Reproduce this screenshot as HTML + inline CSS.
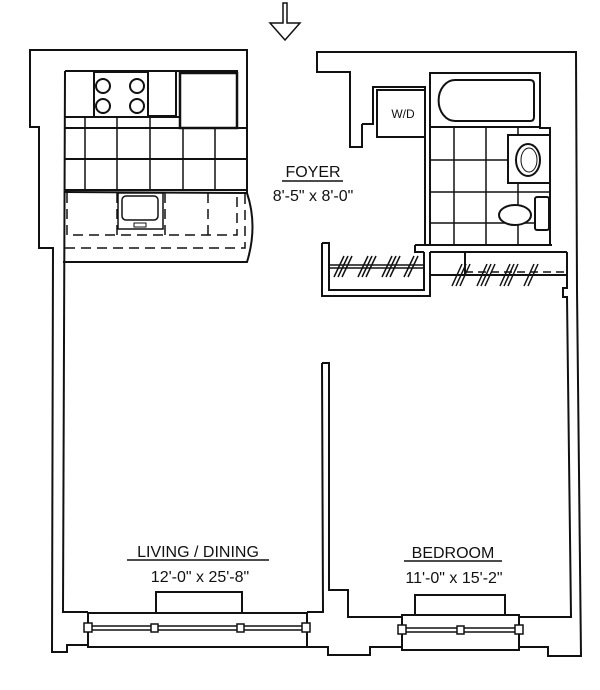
<!DOCTYPE html>
<html><head><meta charset="utf-8"><style>
html,body{margin:0;padding:0;background:#fff;}
svg{display:block;}
text{font-family:"Liberation Sans",sans-serif;fill:#111;}
</style></head><body>
<svg width="600" height="690" viewBox="0 0 600 690" xmlns="http://www.w3.org/2000/svg">
<g fill="none" stroke="#111" stroke-width="2" stroke-linejoin="miter">
<!-- arrow -->
<path d="M283,3 L287,3 L287,23 L300,23 L285,40 L270,23 L283,23 Z" stroke-width="1.5"/>

<!-- left outer wall -->
<path d="M247,128 L247,50 L30,50 L30,127 L39,127 L39,248 L53,248 L52,652 L67,652 L67,645 L88,645"/>
<!-- left inner -->
<path d="M65,71 L237,71 L237,128"/>
<path d="M65,71 L63,612 L88,612"/>
<!-- kitchen -->
<rect x="94" y="72" width="54" height="45"/>
<circle cx="103" cy="86" r="7"/><circle cx="137" cy="86" r="7"/>
<circle cx="103" cy="106" r="7"/><circle cx="137" cy="106" r="7"/>
<path d="M148,72 L148,116 L176,116 L176,72"/>
<rect x="180" y="73" width="57" height="55" stroke-width="2.5"/>
<path d="M65,117 L180,117 M65,128 L247,128 M65,159 L247,159 M65,190 L247,190"/>
<path d="M85,117 L85,190 M117,117 L117,190 M150,117 L150,190 M183,128 L183,190 M215,128 L215,190" stroke-width="1.5"/>
<path d="M247,128 L247,193"/>
<path d="M65,192 L247,193 Q258,226 247,262 L63,262"/>
<path d="M67,193 L67,235 L237,235 L237,193 M117,193 L117,235 M165,193 L165,235 M208,193 L208,235 M65,248 L245,248 L245,193" stroke-dasharray="10,6" stroke-width="1.5"/>
<rect x="118" y="193" width="45" height="36" stroke-width="1.5"/>
<rect x="122" y="196" width="36" height="24" rx="4" stroke-width="1.5"/>
<rect x="134" y="223" width="12" height="4" stroke-width="1"/>

<!-- right top outer -->
<path d="M362,124 L362,147 L350,147 L350,72 L317,72 L317,52 L576,52 L577,290"/>
<path d="M362,124 L373,124 L373,87 L425,87 L425,245"/>
<rect x="377" y="90" width="48" height="47"/>
<!-- bath -->
<path d="M430,245 L430,73 L540,73 L540,128 L550,128 L550,245"/>
<path d="M455,80 L530,80 Q534,80 534,84 L534,117 Q534,121 530,121 L455,121 A16,20 0 0 1 455,80 Z"/>
<path d="M430,127 L540,127"/>
<path d="M454,127 L454,245 M486,127 L486,245 M518,127 L518,135 M518,183 L518,245 M430,160 L508,160 M430,192 L550,192 M430,223 L550,223" stroke-width="1.5"/>
<rect x="508" y="135" width="42" height="48" fill="#fff"/>
<ellipse cx="528" cy="160" rx="12" ry="16"/>
<ellipse cx="529" cy="160" rx="8" ry="12" stroke-width="1"/>
<ellipse cx="515" cy="215" rx="16" ry="10" fill="#fff"/>
<rect x="535" y="197" width="14" height="33" rx="2" fill="#fff"/>
<!-- shelf below bath -->
<path d="M415,245 L552,245 M415,245 L415,252 L424,252 M430,252 L567,252"/>
<!-- left closet -->
<path d="M322,243 L329,243 L329,290 L424,290 L424,252 M322,243 L322,296 L430,296 L430,252"/>
<path d="M329,265 L424,265 M329,268 L424,268" stroke-width="1.5"/>
<!-- right closet -->
<path d="M465,252 L465,275 M430,275 L567,275"/>
<path d="M465,272 L567,272" stroke-dasharray="8,5" stroke-width="1.5"/>
<g stroke-width="1.5">
<path d="M334,277 L344,256 M338,277 L348,256 M342,277 L352,256"/>
<path d="M358,277 L368,256 M362,277 L372,256 M366,277 L376,256"/>
<path d="M382,277 L392,256 M386,277 L396,256 M390,277 L400,256"/>
<path d="M404,277 L414,256 M408,277 L418,256"/>
<path d="M452,286 L462,264 M456,286 L466,264 M460,286 L470,264"/>
<path d="M477,286 L487,264 M481,286 L491,264 M485,286 L495,264"/>
<path d="M500,286 L510,264 M504,286 L514,264 M508,286 L518,264"/>
<path d="M524,286 L534,264 M528,286 L538,264"/>
</g>
<!-- right walls -->
<path d="M567,252 L567,288 L563,288 L563,297 L567,297 L571,617 L519,617"/>
<path d="M577,290 L581,656 L548,656 L548,647 L519,647"/>
<!-- middle wall -->
<path d="M322,363 L329,363 L329,590 L348,590 L348,617 L402,617"/>
<path d="M322,363 L323,612 L307,612"/>
<path d="M307,647 L328,647 L328,655 L370,655 L370,647 L402,647"/>
<!-- living window -->
<rect x="88" y="613" width="219" height="34"/>
<rect x="156" y="592" width="86" height="21"/>
<path d="M88,626 L306,626 M88,630 L306,630" stroke-width="1.5"/>
<rect x="84" y="623" width="8" height="9" fill="#fff" stroke-width="1.5"/>
<rect x="151" y="624" width="7" height="8" fill="#fff" stroke-width="1.5"/>
<rect x="237" y="624" width="7" height="8" fill="#fff" stroke-width="1.5"/>
<rect x="302" y="623" width="8" height="9" fill="#fff" stroke-width="1.5"/>
<!-- bedroom window -->
<rect x="402" y="615" width="117" height="35"/>
<rect x="415" y="595" width="90" height="20"/>
<path d="M402,628 L519,628 M402,632 L519,632" stroke-width="1.5"/>
<rect x="398" y="625" width="8" height="9" fill="#fff" stroke-width="1.5"/>
<rect x="457" y="626" width="7" height="8" fill="#fff" stroke-width="1.5"/>
<rect x="515" y="625" width="8" height="9" fill="#fff" stroke-width="1.5"/>
<!-- underlines -->
<path d="M282,181 L343,181 M127,560 L269,560 M404,561 L502,561" stroke-width="1.5"/>
</g>
<text x="313" y="118" font-size="12" text-anchor="middle" transform="translate(90,0)">W/D</text>
<text x="313" y="177" font-size="16" text-anchor="middle">FOYER</text>
<text x="313" y="201" font-size="16" text-anchor="middle">8'-5" x 8'-0"</text>
<text x="198" y="557" font-size="16" text-anchor="middle">LIVING / DINING</text>
<text x="200" y="582" font-size="16" text-anchor="middle">12'-0" x 25'-8"</text>
<text x="453" y="558" font-size="16" text-anchor="middle">BEDROOM</text>
<text x="454" y="583" font-size="16" text-anchor="middle">11'-0" x 15'-2"</text>
</svg>
</body></html>
